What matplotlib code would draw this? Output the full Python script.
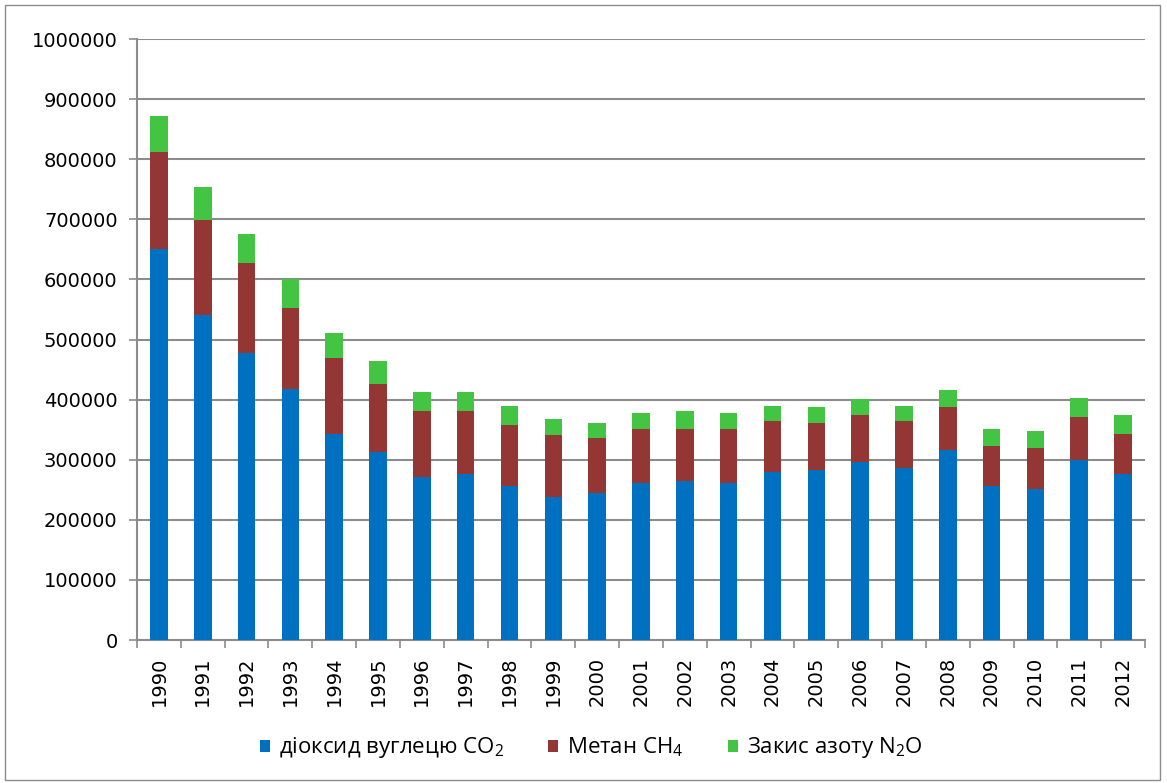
import matplotlib
matplotlib.use("Agg")
import matplotlib.pyplot as plt
import numpy as np
from matplotlib.patches import Rectangle

years = [str(y) for y in range(1990, 2013)]
co2 = [650000, 540000, 478000, 417000, 342000, 313000, 271000, 277000, 257000, 238000,
       245000, 261000, 264000, 261000, 280000, 283000, 297000, 287000, 316000, 257000,
       251000, 300000, 277000]
ch4 = [162000, 159000, 150000, 136000, 127000, 113000, 110000, 104000, 100000, 103000,
       91000, 90000, 87000, 90000, 84000, 78000, 77000, 77000, 71000, 65000,
       68000, 71000, 65000]
n2o = [60000, 55000, 48000, 47000, 41000, 39000, 32000, 32000, 33000, 26000,
       25000, 27000, 30000, 27000, 26000, 26000, 27000, 26000, 29000, 29000,
       29000, 32000, 32000]
series_labels = ['діоксид вуглецю CO$_2$', 'Метан CH$_4$', 'Закис азоту N$_2$O']
yticks = list(range(0, 1000001, 100000))

colors = ['#0070C0', '#943634', '#43C443']

plt.rcParams['mathtext.fontset'] = 'custom'
plt.rcParams['mathtext.rm'] = 'Open Sans'
plt.rcParams['mathtext.it'] = 'Open Sans'

fig = plt.figure(figsize=(11.67, 7.83), dpi=100)
ax = fig.add_axes([137/1167, 1 - 640/783, (1145-137)/1167, (640-39)/783])

x = np.arange(len(years))
co2a = np.array(co2); ch4a = np.array(ch4); n2oa = np.array(n2o)
b1 = ax.bar(x, co2a, width=0.4, color=colors[0], label=series_labels[0], zorder=3)
b2 = ax.bar(x, ch4a, width=0.4, bottom=co2a, color=colors[1], label=series_labels[1], zorder=3)
b3 = ax.bar(x, n2oa, width=0.4, bottom=co2a + ch4a, color=colors[2], label=series_labels[2], zorder=3)

ax.set_xlim(-0.5, len(years) - 0.5)
ax.set_ylim(0, 1000000)
ax.set_yticks(yticks)
ax.set_yticklabels([str(v) for v in yticks], fontsize=14, family='DejaVu Sans')
ax.yaxis.grid(True, color='#8c8c8c', linewidth=1.5, zorder=0)
ax.set_axisbelow(True)

ax.set_xticks(x)
ax.set_xticklabels(years, rotation=90, fontsize=14, family='DejaVu Sans')
ax.tick_params(axis='x', length=0, pad=12)
ax.set_xticks(np.arange(-0.5, len(years), 1), minor=True)
ax.tick_params(axis='x', which='minor', length=6, color='#8c8c8c', width=1.2)
ax.tick_params(axis='y', length=6, color='#8c8c8c', width=1.2, pad=8)

for s in ['top', 'right']:
    ax.spines[s].set_visible(False)
for s in ['left', 'bottom']:
    ax.spines[s].set_color('#8c8c8c')
    ax.spines[s].set_linewidth(1.5)

leg = fig.legend(handles=[b1, b2, b3], labels=series_labels, loc='center',
                 bbox_to_anchor=(591/1167, 1 - 748/783), ncol=3, frameon=False,
                 prop={'family': 'Open Sans', 'size': 16},
                 handlelength=0.45, handleheight=0.45, handletextpad=0.4, columnspacing=2.0)

fig.patches.append(Rectangle((5/1167, 3/783), 1155/1167, 775/783, transform=fig.transFigure,
                             fill=False, edgecolor='#8c8c8c', linewidth=1))

fig.savefig('out.png', dpi=100)
